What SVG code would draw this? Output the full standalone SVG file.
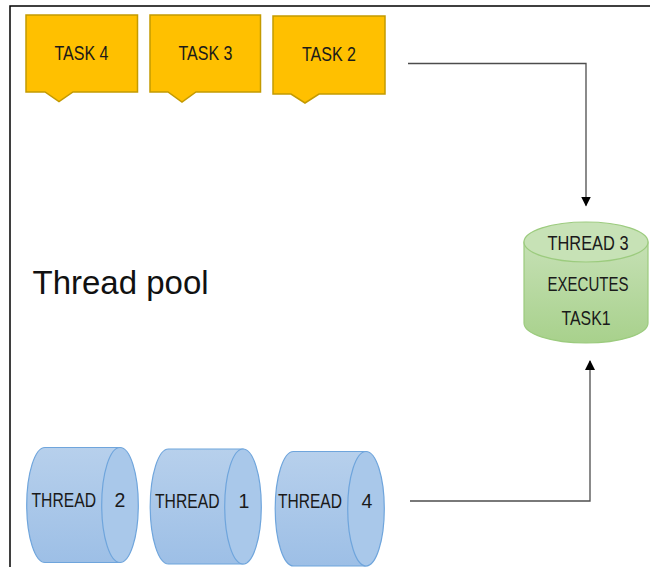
<svg xmlns="http://www.w3.org/2000/svg" width="650" height="567" viewBox="0 0 650 567">
<defs>
<style>
.task{fill:#FFC000;stroke:#C49A00;stroke-width:1.5}
.lbl{font-family:"Liberation Sans",Arial,sans-serif;font-size:19.5px;fill:#1a1a1a}
.blue{fill:url(#gBlue);stroke:#6FA5DC;stroke-width:1.2}
.blueEnd{fill:#A9C8EA;stroke:#6FA5DC;stroke-width:1.2}
.green{fill:url(#gGreen);stroke:#9CCB7E;stroke-width:1.2}
.greenTop{fill:#C7E2B6;stroke:#9CCB7E;stroke-width:1.2}
.conn{fill:none;stroke:#4d4d4d;stroke-width:1.3}
</style>
<linearGradient id="gBlue" x1="0" y1="0" x2="0" y2="1">
<stop offset="0" stop-color="#B7D0EC"/>
<stop offset="1" stop-color="#9DBFE6"/>
</linearGradient>
<linearGradient id="gGreen" x1="0" y1="0" x2="0" y2="1">
<stop offset="0" stop-color="#C5E0B4"/>
<stop offset="1" stop-color="#A8D18C"/>
</linearGradient>
<marker id="arr" markerWidth="10" markerHeight="10" refX="9" refY="5" orient="auto" markerUnits="userSpaceOnUse">
<path d="M0,0 L10,5 L0,10 Z" fill="#000"/>
</marker>
</defs>
<rect x="0" y="0" width="650" height="567" fill="#fff"/>
<path d="M10,567 V6 H650" fill="none" stroke="#000" stroke-width="1.5"/>

<g id="task4">
<path class="task" d="M26,15 H137.5 V92 H73 L59,101.5 L45,92 H26 Z"/>
<text class="lbl" x="81.5" y="59.5" text-anchor="middle" textLength="54" lengthAdjust="spacingAndGlyphs">TASK 4</text>
</g>
<g id="task3">
<path class="task" d="M150,15 H260.5 V92 H196 L182,102 L168,92 H150 Z"/>
<text class="lbl" x="205.5" y="59.5" text-anchor="middle" textLength="54" lengthAdjust="spacingAndGlyphs">TASK 3</text>
</g>
<g id="task2">
<path class="task" d="M273,16 H385 V94 H319 L305,103 L291,94 H273 Z"/>
<text class="lbl" x="329" y="60.5" text-anchor="middle" textLength="54" lengthAdjust="spacingAndGlyphs">TASK 2</text>
</g>

<g id="title">
<text x="32.5" y="294" font-family="'Liberation Sans',Arial,sans-serif" font-size="33" fill="#111">Thread pool</text>
</g>

<g id="thread3">
<path class="green" d="M524,242 V323 A62,20 0 0 0 648,323 V242 Z"/>
<ellipse class="greenTop" cx="586" cy="242" rx="62" ry="20"/>
<text class="lbl" x="588" y="249.5" text-anchor="middle" textLength="81" lengthAdjust="spacingAndGlyphs">THREAD 3</text>
<text class="lbl" x="588" y="290.5" text-anchor="middle" textLength="81" lengthAdjust="spacingAndGlyphs">EXECUTES</text>
<text class="lbl" x="586" y="325" text-anchor="middle" textLength="49" lengthAdjust="spacingAndGlyphs">TASK1</text>
</g>

<g id="thread2">
<path class="blue" d="M45,447.5 H120 V562.5 H45 A18.3,57.5 0 0 1 45,447.5 Z"/>
<ellipse class="blueEnd" cx="120" cy="505" rx="18.3" ry="57.5"/>
<text class="lbl" x="31.5" y="507" textLength="64.5" lengthAdjust="spacingAndGlyphs">THREAD</text>
<text class="lbl" x="120" y="507" text-anchor="middle">2</text>
</g>
<g id="thread1">
<path class="blue" d="M168.5,449 H243 V564 H168.5 A18.3,57.5 0 0 1 168.5,449 Z"/>
<ellipse class="blueEnd" cx="243" cy="506.5" rx="18.3" ry="57.5"/>
<text class="lbl" x="155" y="508" textLength="64.5" lengthAdjust="spacingAndGlyphs">THREAD</text>
<text class="lbl" x="244" y="508" text-anchor="middle">1</text>
</g>
<g id="thread4">
<path class="blue" d="M293.5,451.5 H366 V566 H293.5 A18.3,57.25 0 0 1 293.5,451.5 Z"/>
<ellipse class="blueEnd" cx="366" cy="508.75" rx="18.3" ry="57.25"/>
<text class="lbl" x="278" y="508" textLength="64" lengthAdjust="spacingAndGlyphs">THREAD</text>
<text class="lbl" x="367" y="508" text-anchor="middle">4</text>
</g>

<g id="connectors">
<path class="conn" d="M408,63.5 H586 V205.5" marker-end="url(#arr)"/>
<path class="conn" d="M410,501 H590 V361" marker-end="url(#arr)"/>
</g>
</svg>
